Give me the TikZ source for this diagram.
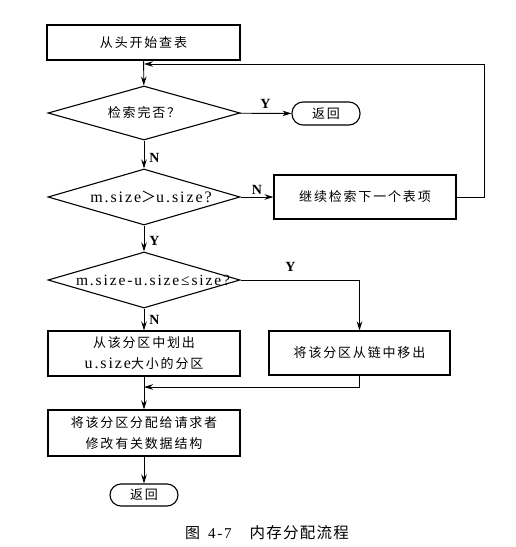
\documentclass[tikz,border=0pt]{standalone}
\usepackage{fontspec}
\setmainfont{Liberation Serif}[LetterSpace=12]
\newfontfamily\cjk[LetterSpace=14]{Noto Sans CJK SC}
\newfontfamily\cjkcap[LetterSpace=8]{Noto Sans CJK SC}
\newcommand\zh[1]{{\cjk\fontsize{13}{21}\selectfont #1}}
\usetikzlibrary{shapes.geometric,arrows.meta}
\begin{document}
\begin{tikzpicture}[x=1pt,y=-1pt,
  base/.style={draw, line width=1.1pt, inner sep=0pt, align=center, font=\fontsize{16}{21}\selectfont},
  proc/.style={base, rectangle},
  dec/.style={base, diamond, minimum width=192pt, minimum height=56pt},
  term/.style={base, rectangle, rounded corners=11pt, minimum width=68pt, minimum height=23pt},
  arr/.style={-{Stealth[length=9pt,width=5.5pt]}, line width=0.9pt},
  lab/.style={font=\bfseries\fontsize{14}{14}\selectfont, inner sep=0pt}]
\useasboundingbox (0,0) rectangle (515,547);

\node[proc, minimum width=193pt, minimum height=35pt] (start) at (143.5,42.5) {\zh{从头开始查表}};
\node[dec, minimum height=54pt] (d1) at (144,113) {\makebox[0pt]{\zh{检索完否？}}};
\node[term] (ret1) at (326,113.5) {\zh{返回}};
\node[dec] (d2) at (144,197) {\makebox[0pt]{\hspace{14pt}m.size{\cjk\fontsize{15}{15}\selectfont ＞}u.size?}};
\node[proc, minimum width=182pt, minimum height=44pt] (next) at (365,197) {\zh{继续检索下一个表项}};
\node[dec] (d3) at (144,280) {\makebox[0pt]{\hspace{18pt}\fontsize{15.5}{15}\selectfont m.size-u.size≤size?}};
\node[proc, minimum width=192pt, minimum height=45pt] (split) at (144,353.5) {\zh{从该分区中划出}\\u.size\zh{大小的分区}};
\node[proc, minimum width=181pt, minimum height=44pt] (remove) at (359.5,353) {\zh{将该分区从链中移出}};
\node[proc, minimum width=192pt, minimum height=46pt] (assign) at (144,433) {\zh{将该分区分配给请求者}\\\zh{修改有关数据结构}};
\node[term, minimum height=22pt] (ret2) at (144,495) {\zh{返回}};
\node[inner sep=0pt] (cap) at (267,533) {{\cjkcap\fontsize{15}{15}\selectfont 图}\hspace{8pt}{\fontsize{15}{15}\selectfont 4-7}\hspace{18pt}{\cjkcap\fontsize{15.5}{15}\selectfont 内存分配流程}};

\coordinate (loop) at (144,64);
\coordinate (merge) at (144,387);

\draw[arr] (start) -- (d1);
\draw[arr] (d1) -- node[lab, above, yshift=4pt] {Y} (ret1);
\draw[arr] (d1) -- node[lab, right, xshift=5pt, yshift=-3pt] {N} (d2);
\draw[arr] (d2) -- node[lab, above, yshift=2pt] {N} (next);
\draw[arr] (next.east) -- (484,197) |- (loop);
\draw[arr] (d2) -- node[lab, right, xshift=5pt, yshift=-2pt] {Y} (d3);
\draw[arr] (d3.east) -| node[lab, pos=0.21, above, yshift=8pt] {Y} (remove.north);
\draw[arr] (d3) -- node[lab, right, xshift=5pt] {N} (split);
\draw[arr] (remove.south) |- (merge);
\draw[arr] (split) -- (assign);
\draw[arr] (assign) -- (ret2);
\end{tikzpicture}
\end{document}
